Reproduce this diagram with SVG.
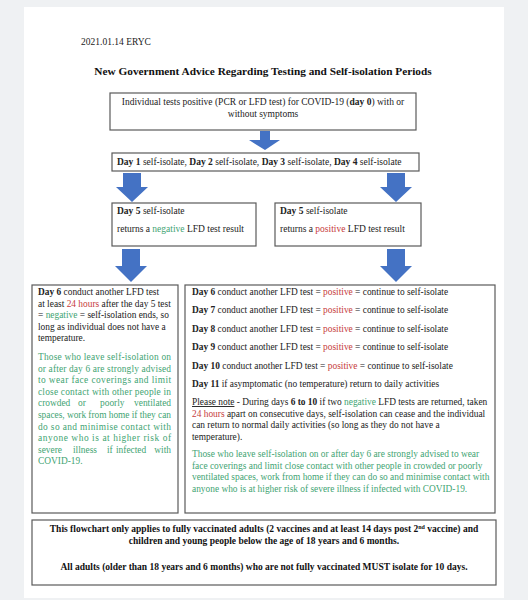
<svg xmlns="http://www.w3.org/2000/svg" width="528" height="600" viewBox="0 0 528 600">
<style>
text{font-family:"Liberation Serif","Times New Roman",serif;fill:#222;font-size:9.5px}
.b{font-weight:bold}
.g{fill:#3fa473}
.r{fill:#c63b3b}
.box{fill:#fff;stroke:#5a5a5a;stroke-width:1.2}
.arr{fill:#4472c4}
.t{font-size:11.3px;font-weight:bold;fill:#111}
.f{font-weight:bold;font-size:9.5px;fill:#111}
.L{font-size:9.4px}
.R{font-size:9.4px}
</style>
<rect x="0" y="0" width="528" height="600" fill="#eff1f3"/>
<rect x="24" y="7" width="480" height="591" fill="#fff"/>
<text x="81" y="45" font-size="9">2021.01.14 ERYC</text>
<text class="t" x="263" y="75" text-anchor="middle">New Government Advice Regarding Testing and Self-isolation Periods</text>

<g id="connectors">
<polygon class="arr" points="260,131 270,131 270,140 280,140 265,150 249,140 260,140"/>
<polygon class="arr" points="123,173 141,173 141,187 148,187 132,202 116,187 123,187"/>
<polygon class="arr" points="387,173 405,173 405,187 412,187 396,202 380,187 387,187"/>
<polygon class="arr" points="122,249 140,249 140,266 147,266 131,282 115,266 122,266"/>
<polygon class="arr" points="387,249 405,249 405,266 412,266 396,282 380,266 387,266"/>
</g>

<g id="n-start">
<rect class="box" x="110" y="93" width="306" height="37"/>
<text x="263" y="105" text-anchor="middle">Individual tests positive (PCR or LFD test) for COVID-19 (<tspan class="b">day 0</tspan>) with or</text>
<text x="263" y="117" text-anchor="middle">without symptoms</text>
</g>

<g id="n-days1to4">
<rect class="box" x="112" y="153" width="307" height="18"/>
<text x="117" y="165"><tspan class="b">Day 1</tspan> self-isolate, <tspan class="b">Day 2</tspan> self-isolate, <tspan class="b">Day 3</tspan> self-isolate, <tspan class="b">Day 4</tspan> self-isolate</text>
</g>

<g id="n-day5-neg">
<rect class="box" x="112" y="203" width="144" height="43"/>
<text x="117" y="214"><tspan class="b">Day 5</tspan> self-isolate</text>
<text x="117" y="232">returns a <tspan class="g">negative</tspan> LFD test result</text>
</g>

<g id="n-day5-pos">
<rect class="box" x="275" y="203" width="146" height="43"/>
<text x="280" y="214"><tspan class="b">Day 5</tspan> self-isolate</text>
<text x="280" y="232">returns a <tspan class="r">positive</tspan> LFD test result</text>
</g>

<g id="n-neg-path">
<rect class="box" x="32" y="285" width="146" height="228"/>
<text class="L" x="38" y="295"><tspan class="b">Day 6</tspan> conduct another LFD test</text>
<text class="L" x="38" y="306.7">at least <tspan class="r">24 hours</tspan> after the day 5 test</text>
<text class="L" x="38" y="318.2">= <tspan class="g">negative</tspan> = self-isolation ends, so</text>
<text class="L" x="38" y="329.7">long as individual does not have a</text>
<text class="L" x="38" y="341.2">temperature.</text>
<text class="g L" x="38" y="360" textLength="133" lengthAdjust="spacing">Those who leave self-isolation on</text>
<text class="g L" x="38" y="371.6" textLength="133" lengthAdjust="spacing">or after day 6 are strongly advised</text>
<text class="g L" x="38" y="383.2" textLength="133" lengthAdjust="spacing">to wear face coverings and limit</text>
<text class="g L" x="38" y="394.8" textLength="133" lengthAdjust="spacing">close contact with other people in</text>
<text class="g L" y="406.4"><tspan x="38">crowded</tspan><tspan x="78">or</tspan><tspan x="100">poorly</tspan><tspan x="171" text-anchor="end">ventilated</tspan></text>
<text class="g L" x="38" y="418" textLength="133" lengthAdjust="spacing">spaces, work from home if they can</text>
<text class="g L" x="38" y="429.6" textLength="133" lengthAdjust="spacing">do so and minimise contact with</text>
<text class="g L" x="38" y="441.2" textLength="133" lengthAdjust="spacing">anyone who is at higher risk of</text>
<text class="g L" y="452.8"><tspan x="38">severe</tspan><tspan x="73">illness</tspan><tspan x="107">if</tspan><tspan x="116">infected</tspan><tspan x="171" text-anchor="end">with</tspan></text>
<text class="g L" x="38" y="464.4">COVID-19.</text>
</g>

<g id="n-pos-path">
<rect class="box" x="185" y="285" width="310" height="228"/>
<text class="R" x="192" y="295"><tspan class="b">Day 6</tspan> conduct another LFD test = <tspan class="r">positive</tspan> = continue to self-isolate</text>
<text class="R" x="192" y="313.4"><tspan class="b">Day 7</tspan> conduct another LFD test = <tspan class="r">positive</tspan> = continue to self-isolate</text>
<text class="R" x="192" y="331.8"><tspan class="b">Day 8</tspan> conduct another LFD test = <tspan class="r">positive</tspan> = continue to self-isolate</text>
<text class="R" x="192" y="350.2"><tspan class="b">Day 9</tspan> conduct another LFD test = <tspan class="r">positive</tspan> = continue to self-isolate</text>
<text class="R" x="192" y="368.6"><tspan class="b">Day 10</tspan> conduct another LFD test = <tspan class="r">positive</tspan> = continue to self-isolate</text>
<text class="R" x="192" y="387"><tspan class="b">Day 11</tspan> if asymptomatic (no temperature) return to daily activities</text>
<text class="R" x="192" y="405"><tspan text-decoration="underline">Please note</tspan> - During days <tspan class="b">6 to 10</tspan> if two <tspan class="g">negative</tspan> LFD tests are returned, taken</text>
<text class="R" x="192" y="416.7"><tspan class="r">24 hours</tspan> apart on consecutive days, self-isolation can cease and the individual</text>
<text class="R" x="192" y="428.4">can return to normal daily activities (so long as they do not have a</text>
<text class="R" x="192" y="440.1">temperature).</text>
<text class="g R" x="192" y="457">Those who leave self-isolation on or after day 6 are strongly advised to wear</text>
<text class="g R" x="192" y="468.7">face coverings and limit close contact with other people in crowded or poorly</text>
<text class="g R" x="192" y="480.4">ventilated spaces, work from home if they can do so and minimise contact with</text>
<text class="g R" x="192" y="492.1">anyone who is at higher risk of severe illness if infected with COVID-19.</text>
</g>

<g id="n-footer">
<rect class="box" x="32" y="520" width="464" height="65"/>
<text class="f" x="264" y="532" text-anchor="middle">This flowchart only applies to fully vaccinated adults (2 vaccines and at least 14 days post 2<tspan font-size="6" dy="-3.5">nd</tspan><tspan dy="3.5"> vaccine) and</tspan></text>
<text class="f" x="264" y="544" text-anchor="middle">children and young people below the age of 18 years and 6 months.</text>
<text class="f" x="264" y="570" text-anchor="middle">All adults (older than 18 years and 6 months) who are not fully vaccinated MUST isolate for 10 days.</text>
</g>
</svg>
